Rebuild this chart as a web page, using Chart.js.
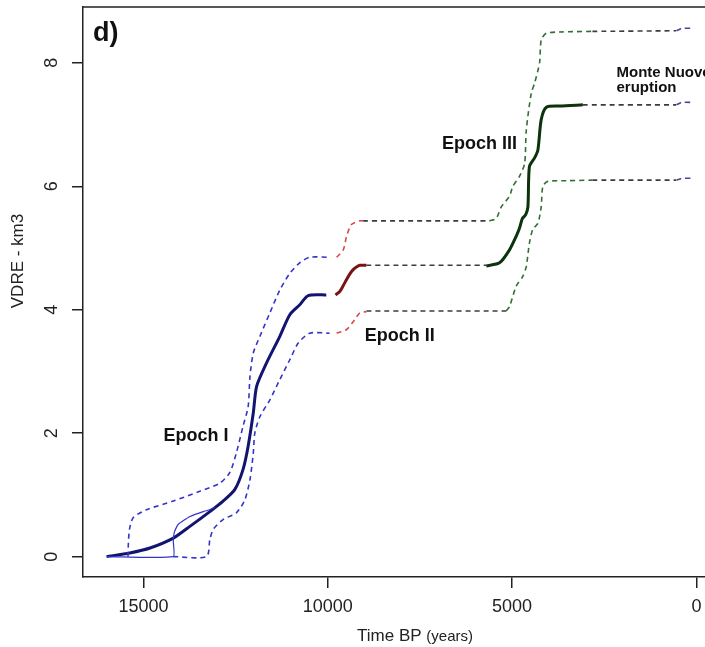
<!DOCTYPE html>
<html>
<head>
<meta charset="utf-8">
<script src="https://cdn.jsdelivr.net/npm/chart.js@4.4.0/dist/chart.umd.min.js"></script>
<style>
  html, body { margin: 0; padding: 0; background: #fff; overflow: hidden; }
  #wrap { width: 705px; height: 647px; overflow: hidden; }
</style>
</head>
<body>
<div id="wrap"><canvas id="c" width="722" height="647"></canvas></div>
<script>
// ticks
const xTicks = [15000, 10000, 5000, 0];
const yTicks = [0, 2, 4, 6, 8];

// cumulative volume (km3) vs time BP - mean curves
const e1MeanX = [16000, 15370, 14820, 14190, 13740, 13200, 12840, 12520, 12300, 12160, 12020, 11930, 11660, 11300, 11030, 10760, 10530, 10040];
const e1MeanY = [0, 0.06, 0.14, 0.30, 0.49, 0.73, 0.90, 1.09, 1.41, 1.79, 2.33, 2.76, 3.14, 3.57, 3.92, 4.08, 4.23, 4.24];
const e1ThinX = [16000, 14190, 14190, 14160, 14060, 13740, 13380, 13200, 13060];
const e1ThinY = [0, 0, 0.25, 0.40, 0.52, 0.65, 0.73, 0.76, 0.80];
const e2MeanX = [9790, 9680, 9590, 9490, 9400, 9310, 9200, 9130, 8950];
const e2MeanY = [4.24, 4.29, 4.38, 4.49, 4.58, 4.65, 4.70, 4.72, 4.72];
const gapMeanAX = [8950, 5700];
const gapMeanAY = [4.72, 4.72];
const e3MeanX = [5700, 5340, 5070, 4890, 4800, 4720, 4630, 4570, 4530, 4390, 4300, 4210, 4070, 3710, 3080];
const e3MeanY = [4.71, 4.76, 4.97, 5.19, 5.32, 5.48, 5.54, 5.67, 6.32, 6.46, 6.59, 7.08, 7.28, 7.30, 7.32];
const gapMeanBX = [3080, 550];
const gapMeanBY = [7.32, 7.32];
const mnMeanX = [540, 440, 400, 100];
const mnMeanY = [7.32, 7.35, 7.36, 7.36];

// upper bound
const e1UpX = [15420, 15410, 15380, 15280, 14920, 14190, 13470, 12930, 12660, 12480, 12300, 12160, 12110, 12020, 11840, 11570, 11300, 11030, 10760, 10490, 9950];
const e1UpY = [0, 0.2, 0.44, 0.63, 0.76, 0.90, 1.06, 1.19, 1.36, 1.68, 2.11, 2.43, 2.92, 3.30, 3.57, 3.95, 4.32, 4.59, 4.76, 4.85, 4.85];
const e2UpX = [9760, 9580, 9490, 9360, 9130, 9040];
const e2UpY = [4.85, 4.97, 5.19, 5.38, 5.44, 5.44];
const gapUpAX = [9040, 5610];
const gapUpAY = [5.44, 5.44];
const e3UpX = [5610, 5430, 5290, 5070, 4980, 4800, 4660, 4615, 4480, 4390, 4255, 4210, 4070, 3710, 2820];
const e3UpY = [5.44, 5.48, 5.67, 5.84, 6.00, 6.16, 6.37, 6.91, 7.51, 7.67, 8.00, 8.37, 8.48, 8.50, 8.51];
const gapUpBX = [2820, 550];
const gapUpBY = [8.51, 8.52];
const mnUpX = [540, 440, 400, 100];
const mnUpY = [8.52, 8.55, 8.56, 8.56];

// lower bound
const e1LoX = [14190, 13290, 13200, 13110, 12840, 12480, 12250, 12110, 12020, 11980, 11840, 11570, 11300, 11030, 10800, 10490, 9950];
const e1LoY = [0, 0, 0.27, 0.44, 0.60, 0.71, 0.92, 1.25, 1.68, 2.00, 2.27, 2.54, 2.87, 3.19, 3.46, 3.62, 3.62];
const e2LoX = [9760, 9490, 9270, 9130, 8950];
const e2LoY = [3.62, 3.68, 3.84, 3.95, 3.97];
const gapLoAX = [8950, 5160];
const gapLoAY = [3.98, 3.98];
const e3LoX = [5160, 5070, 4890, 4710, 4615, 4530, 4440, 4300, 4210, 4165, 4030, 3530, 2820];
const e3LoY = [3.98, 4.05, 4.38, 4.54, 4.70, 5.08, 5.30, 5.40, 5.67, 6.00, 6.08, 6.09, 6.10];
const gapLoBX = [2820, 550];
const gapLoBY = [6.10, 6.10];
const mnLoX = [540, 440, 400, 100];
const mnLoY = [6.10, 6.12, 6.13, 6.13];

const FONT = "'Liberation Sans', Arial, sans-serif";
const navy = '#121570', blue = '#3434c8', darkRed = '#7a1414', red = '#d84848',
      gray = '#3c3c3c', darkGreen = '#0c330c', green = '#336f33', purple = '#5a3c9a';

function pts(xs, ys) { return xs.map((x, i) => ({ x: x, y: ys[i] })); }
function dashed(xs, ys, color) {
  return { data: pts(xs, ys), borderColor: color, borderWidth: 1.6, borderDash: [5, 4], tension: 0.25 };
}
function solid(xs, ys, color, w) {
  return { data: pts(xs, ys), borderColor: color, borderWidth: w, tension: 0.25 };
}

const datasets = [
  dashed(e1UpX, e1UpY, blue), dashed(e2UpX, e2UpY, red), dashed(gapUpAX, gapUpAY, gray),
  dashed(e3UpX, e3UpY, green), dashed(gapUpBX, gapUpBY, gray), dashed(mnUpX, mnUpY, purple),
  dashed(e1LoX, e1LoY, blue), dashed(e2LoX, e2LoY, red), dashed(gapLoAX, gapLoAY, gray),
  dashed(e3LoX, e3LoY, green), dashed(gapLoBX, gapLoBY, gray), dashed(mnLoX, mnLoY, purple),
  dashed(gapMeanAX, gapMeanAY, gray), dashed(gapMeanBX, gapMeanBY, gray), dashed(mnMeanX, mnMeanY, purple),
  Object.assign(solid(e1ThinX, e1ThinY, blue, 1.2), { tension: 0.15 }),
  solid(e1MeanX, e1MeanY, navy, 3), solid(e2MeanX, e2MeanY, darkRed, 3), solid(e3MeanX, e3MeanY, darkGreen, 3)
];
datasets.forEach(d => { d.showLine = true; d.pointRadius = 0; d.fill = false; });

const notes = [
  { t: 'd)', x: 16370, y: 8.48, size: 27, align: 'left' },
  { t: 'Epoch I', x: 13577, y: 1.96, size: 18, align: 'center' },
  { t: 'Epoch II', x: 8049, y: 3.58, size: 18, align: 'center' },
  { t: 'Epoch III', x: 5881, y: 6.69, size: 18, align: 'center' },
  { t: 'Monte Nuovo', x: 2168, y: 7.83, size: 15, align: 'left' },
  { t: 'eruption', x: 2168, y: 7.59, size: 15, align: 'left' }
];

const decor = {
  id: 'decor',
  afterDraw(chart) {
    const ctx = chart.ctx, a = chart.chartArea, sx = chart.scales.x, sy = chart.scales.y;
    ctx.save();
    ctx.strokeStyle = '#222';
    ctx.lineWidth = 1.5;
    ctx.beginPath();
    ctx.moveTo(a.left, a.top); ctx.lineTo(a.right, a.top); ctx.lineTo(a.right, a.bottom);
    ctx.stroke();
    ctx.fillStyle = '#111';
    ctx.textBaseline = 'middle';
    notes.forEach(n => {
      ctx.font = 'bold ' + n.size + 'px ' + FONT;
      ctx.textAlign = n.align;
      ctx.fillText(n.t, sx.getPixelForValue(n.x), sy.getPixelForValue(n.y));
    });
    // axis titles
    ctx.fillStyle = '#222';
    ctx.textAlign = 'left';
    ctx.textBaseline = 'alphabetic';
    ctx.font = '17px ' + FONT;
    const w1 = ctx.measureText('Time BP ').width;
    ctx.font = '15px ' + FONT;
    const w2 = ctx.measureText('(years)').width;
    const x0 = 415 - (w1 + w2) / 2;
    ctx.font = '17px ' + FONT;
    ctx.fillText('Time BP ', x0, 641);
    ctx.font = '15px ' + FONT;
    ctx.fillText('(years)', x0 + w1, 641);
    ctx.translate(18, 261);
    ctx.rotate(-Math.PI / 2);
    ctx.textAlign = 'center';
    ctx.textBaseline = 'middle';
    ctx.font = '17px ' + FONT;
    ctx.fillText('VDRE - km3', 0, 0);
    ctx.restore();
  }
};

const axisGrid = { display: true, drawOnChartArea: false, drawTicks: true, tickLength: 11, color: '#222', lineWidth: 1.5 };

new Chart(document.getElementById('c'), {
  type: 'scatter',
  data: { datasets: datasets },
  options: {
    responsive: false,
    animation: false,
    layout: { padding: { top: 7, right: 2, left: 0, bottom: 0 } },
    plugins: { legend: { display: false }, tooltip: { enabled: false } },
    scales: {
      x: {
        type: 'linear', reverse: true, min: -640, max: 16640,
        afterBuildTicks: s => { s.ticks = xTicks.map(v => ({ value: v })); },
        afterFit: s => { s.height = 70; s.paddingLeft = 0; s.paddingRight = 0; },
        grid: axisGrid,
        border: { display: true, color: '#222', width: 1.5 },
        ticks: { font: { family: FONT, size: 18 }, color: '#222', padding: 8, maxRotation: 0, autoSkip: false, callback: v => String(v) }
      },
      y: {
        type: 'linear', min: -0.33, max: 8.905,
        afterBuildTicks: s => { s.ticks = yTicks.map(v => ({ value: v })); },
        afterFit: s => { s.width = 83; s.paddingTop = 0; s.paddingBottom = 0; },
        grid: axisGrid,
        border: { display: true, color: '#222', width: 1.5 },
        ticks: { font: { family: FONT, size: 18 }, color: '#222', padding: 15, minRotation: 90, maxRotation: 90, crossAlign: 'center', autoSkip: false, callback: v => String(v) }
      }
    }
  },
  plugins: [decor]
});
</script>
</body>
</html>
